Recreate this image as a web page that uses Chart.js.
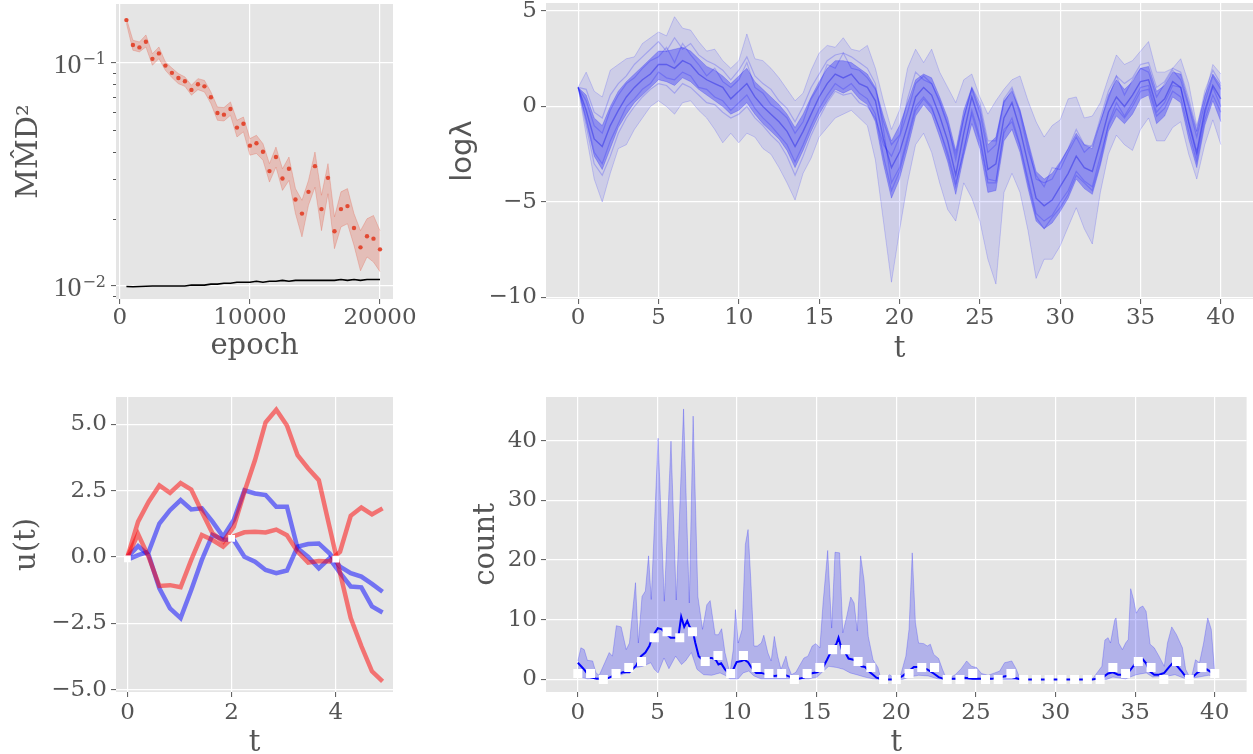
<!DOCTYPE html>
<html>
<head>
<meta charset="UTF-8">
<title>panels</title>
<script src="https://cdn.jsdelivr.net/npm/chart.js"></script>
<style>
  body { margin: 0; background: #fff; width: 1253px; height: 754px; position: relative; overflow: hidden; }
  canvas { position: absolute; }
</style>
</head>
<body>
<canvas id="mmd" width="420" height="375" style="left:0;top:0"></canvas>
<canvas id="lam" width="833" height="375" style="left:420px;top:0"></canvas>
<canvas id="ctrl" width="420" height="379" style="left:0;top:375px"></canvas>
<canvas id="cnt" width="833" height="379" style="left:420px;top:375px"></canvas>

<script>
// ---- top-left: MMD^2 vs epoch ----
const mmdEpochs = [500, 1000, 1500, 2000, 2500, 3000, 3500, 4000, 4500, 5000,
  5500, 6000, 6500, 7000, 7500, 8000, 8500, 9000, 9500, 10000,
  10500, 11000, 11500, 12000, 12500, 13000, 13500, 14000, 14500, 15000,
  15500, 16000, 16500, 17000, 17500, 18000, 18500, 19000, 19500, 20000];
const mmdMean = [0.155, 0.120, 0.117, 0.124, 0.104, 0.110, 0.097, 0.090, 0.0854, 0.0825,
  0.0755, 0.080, 0.0783, 0.070, 0.0595, 0.0585, 0.062, 0.0512, 0.0533, 0.0425,
  0.0436, 0.0399, 0.0327, 0.0378, 0.0303, 0.0335, 0.0244, 0.0211, 0.0264, 0.0344,
  0.0221, 0.0305, 0.0176, 0.0221, 0.0228, 0.0182, 0.0149, 0.0167, 0.0163, 0.0146];
const mmdUpper = [0.158, 0.126, 0.1237, 0.133, 0.1097, 0.1175, 0.1007, 0.0946, 0.0893, 0.0863,
  0.0792, 0.0848, 0.0833, 0.0739, 0.0633, 0.0629, 0.0667, 0.0552, 0.0571, 0.0457,
  0.0473, 0.0434, 0.0353, 0.0419, 0.0335, 0.0378, 0.0273, 0.0242, 0.0297, 0.0398,
  0.0255, 0.0353, 0.0204, 0.0264, 0.0273, 0.0211, 0.0177, 0.0200, 0.0207, 0.0177];
const mmdLower = [0.150, 0.1136, 0.1117, 0.1175, 0.0973, 0.1042, 0.0924, 0.0857, 0.0805, 0.0783,
  0.0715, 0.0757, 0.0739, 0.0655, 0.0552, 0.0548, 0.0581, 0.0465, 0.0490, 0.0385,
  0.0392, 0.0366, 0.0292, 0.0341, 0.0268, 0.0297, 0.0211, 0.0166, 0.0230, 0.0277,
  0.0177, 0.0259, 0.0147, 0.0184, 0.0190, 0.0152, 0.0117, 0.0135, 0.0128, 0.0116];
const mmdBaseline = [0.00995, 0.00993, 0.00995, 0.00998, 0.0100, 0.0100, 0.0100, 0.0100, 0.0100, 0.0100,
  0.0101, 0.0101, 0.0101, 0.0102, 0.0102, 0.0103, 0.0103, 0.0104, 0.0104, 0.0104,
  0.0105, 0.0104, 0.0105, 0.0105, 0.0106, 0.0105, 0.0106, 0.0106, 0.0106, 0.0106,
  0.0106, 0.0106, 0.0106, 0.0107, 0.0106, 0.0107, 0.0106, 0.0107, 0.0107, 0.0107];
const mmdMajor = [0.01, 0.1];
const mmdMajorExp = ['\u22122', '\u22121'];
const mmdMinor = [0.009, 0.02, 0.03, 0.04, 0.05, 0.06, 0.07, 0.08, 0.09];

// ---- top-right: log lambda paths, summarised every 0.5 in t ----
const lamT = Array.from({length: 81}, (_, i) => i * 0.5);
const lamCenter = [1.0, -0.2, -1.7, -2.1, -1.0, -0.2, 0.5, 1.0, 1.4, 1.7,
  2.2, 2.2, 2.0, 2.4, 2.2, 1.7, 1.4, 1.2, 1.0, 0.4,
  0.8, 1.2, 0.5, 0.0, -0.4, -0.8, -1.3, -2.1, -1.3, -0.4,
  0.5, 1.2, 1.7, 1.5, 1.7, 1.2, 1.0, 0.3, -1.7, -3.2,
  -2.4, -1.0, 0.5, 1.0, 0.6, -0.5, -1.8, -3.6, -1.4, 0.5,
  -0.8, -3.3, -3.0, -0.6, 0.2, -1.2, -3.0, -4.8, -5.2, -4.9,
  -4.2, -3.5, -2.6, -3.2, -3.4, -1.9, -0.3, 0.5, 0.0, 0.6,
  1.3, 1.4, 0.0, 0.4, 1.3, 1.0, -0.8, -2.4, -0.2, 1.1,
  0.4];
const lamInnerUp = [1.0, 0.6, -0.6, -1.0, 0.0, 0.8, 1.3, 1.7, 2.1, 2.5,
  2.9, 2.9, 3.0, 3.1, 2.9, 2.5, 2.1, 1.9, 1.6, 1.2,
  1.6, 2.0, 1.3, 0.9, 0.5, 0.1, -0.4, -1.1, -0.4, 0.5,
  1.3, 2.0, 2.4, 2.4, 2.3, 2.0, 1.7, 1.0, -0.5, -1.8,
  -1.0, 0.2, 1.4, 1.7, 1.5, 0.5, -0.6, -2.3, -0.2, 1.0,
  0.0, -2.0, -1.6, 0.3, 0.8, -0.2, -1.8, -3.4, -3.8, -3.5,
  -2.9, -2.2, -1.4, -2.0, -2.2, -0.8, 0.6, 1.4, 0.9, 1.3,
  2.0, 2.1, 0.8, 1.1, 1.8, 1.7, 0.2, -1.3, 0.6, 1.7,
  1.1];
const lamInnerLo = [1.0, -0.8, -2.6, -3.3, -2.2, -1.1, -0.4, 0.2, 0.6, 1.0,
  1.4, 1.3, 1.1, 1.5, 1.3, 0.9, 0.6, 0.3, 0.0, -0.4,
  -0.2, 0.2, -0.4, -0.9, -1.3, -1.7, -2.3, -3.2, -2.3, -1.3,
  -0.4, 0.3, 0.9, 0.7, 0.9, 0.4, 0.1, -0.8, -3.0, -4.8,
  -3.8, -2.2, -0.5, 0.1, -0.4, -1.6, -2.9, -4.6, -2.6, -0.9,
  -2.2, -4.5, -4.4, -1.8, -1.2, -2.4, -4.3, -6.0, -6.4, -6.1,
  -5.5, -4.8, -3.8, -4.3, -4.6, -3.1, -1.3, -0.5, -0.9, -0.4,
  0.4, 0.6, -0.9, -0.5, 0.5, 0.2, -1.7, -3.2, -1.0, 0.3,
  -0.8];
const lamOuterUp = [1.0, 1.8, 0.8, 0.5, 1.9, 2.2, 2.5, 2.6, 3.3, 3.6,
  3.9, 3.7, 4.7, 4.1, 4.0, 3.4, 2.9, 3.0, 2.4, 2.0,
  2.4, 3.8, 2.5, 2.4, 2.0, 1.5, 0.9, 0.3, 0.7, 1.9,
  2.8, 3.2, 3.1, 3.6, 3.0, 2.9, 3.2, 2.0, 0.3, -1.2,
  -0.2, 2.0, 3.0, 2.3, 3.0, 1.8, 1.0, 0.2, 1.4, 1.7,
  0.5, -0.4, 0.3, 0.9, 1.4, 1.6, 0.3, -0.8, -1.6, -1.0,
  -0.7, 0.4, 0.5, -0.6, -0.5, 0.2, 1.5, 2.7, 2.2, 2.4,
  2.9, 3.4, 1.8, 1.8, 2.0, 2.5, 1.2, -1.0, 0.5, 2.2,
  1.7];
const lamOuterLo = [1.0, -1.5, -3.8, -5.0, -3.5, -2.2, -2.0, -1.2, -0.6, 0.0,
  0.3, 0.0, -0.4, 0.2, 0.3, -0.2, -0.6, -1.2, -1.9, -1.4,
  -1.9, -1.4, -1.6, -2.2, -2.5, -3.2, -4.0, -4.9, -3.5, -2.7,
  -1.6, -1.1, -0.6, -0.4, -0.2, -0.6, -1.0, -2.8, -6.0, -9.2,
  -6.5, -4.0, -2.0, -1.4, -2.4, -4.0, -5.4, -6.0, -4.0, -4.8,
  -6.0, -8.0, -9.3, -4.5, -3.5, -4.5, -6.5, -9.0, -8.0, -8.0,
  -7.3, -6.3, -5.3, -6.4, -7.2, -4.5, -2.5, -1.5, -2.0, -2.3,
  -1.2, -0.6, -1.8, -1.8, -1.1, -0.8, -2.5, -3.8, -2.0, -0.7,
  -2.0];
// a few single sample paths read out of the bundle
const lamPathA = [1.0, 0.3, -1.0, -1.4, -0.2, 0.6, 1.2, 1.5, 2.0, 2.4,
  2.6, 3.1, 2.3, 3.3, 2.7, 2.2, 1.6, 2.0, 1.3, 1.0,
  1.4, 2.3, 1.0, 0.7, 0.1, -0.2, -0.6, -1.4, -0.8, 0.4,
  1.1, 2.2, 2.0, 2.8, 2.0, 1.9, 1.5, 0.9, -0.8, -2.0,
  -1.5, 0.4, 1.8, 1.4, 1.2, 0.2, -1.0, -2.5, -0.6, 0.9,
  -0.3, -2.4, -2.0, 0.2, 0.9, -0.4, -2.3, -3.6, -4.2, -3.2,
  -3.3, -2.4, -1.6, -2.4, -2.0, -0.8, 0.4, 1.6, 0.6, 1.4,
  2.0, 1.8, 0.5, 1.2, 1.9, 1.4, 0.0, -1.6, 0.2, 1.6,
  0.9];
const lamPathB = [1.0, -0.6, -2.4, -3.0, -1.8, -0.9, 0.0, 0.4, 0.9, 1.2,
  1.8, 1.5, 1.4, 1.8, 1.6, 1.0, 0.9, 0.5, 0.3, -0.2,
  0.2, 0.6, -0.1, -0.6, -1.0, -1.5, -2.0, -2.9, -2.0, -1.0,
  -0.1, 0.6, 1.2, 0.9, 1.2, 0.7, 0.4, -0.4, -2.6, -4.4,
  -3.4, -1.8, -0.2, 0.4, -0.1, -1.2, -2.6, -4.2, -2.2, -0.4,
  -1.8, -4.0, -4.0, -1.4, -0.6, -2.0, -3.8, -5.6, -6.0, -5.7,
  -5.0, -4.4, -3.4, -3.9, -4.2, -2.6, -1.0, -0.1, -0.6, 0.0,
  0.8, 0.9, -0.5, -0.1, 0.8, 0.5, -1.3, -2.9, -0.7, 0.6,
  -0.3];
const lamPathC = [1.0, 0.9, -0.3, -0.6, 0.6, 1.2, 1.6, 2.2, 2.6, 3.0,
  3.4, 2.9, 3.6, 3.0, 3.3, 2.7, 2.4, 2.2, 1.9, 1.4,
  1.9, 2.6, 1.6, 1.2, 0.9, 0.3, -0.1, -0.8, 0.0, 1.0,
  1.7, 2.4, 2.7, 2.8, 2.6, 2.3, 2.0, 1.2, -1.2, -4.0,
  -3.2, -1.6, 0.0, 0.5, 0.0, -1.2, -2.4, -4.0, -2.4, -0.2,
  -1.6, -3.8, -3.9, -1.2, -0.8, -2.1, -4.0, -5.8, -6.4, -5.8,
  -5.3, -4.6, -3.6, -4.0, -4.4, -2.9, -0.9, 0.2, -0.5, 0.2,
  1.0, 1.1, -0.3, 0.2, 1.1, 1.0, -0.9, -2.6, -0.4, 1.0,
  0.0];
const lamPathD = [1.0, -1.0, -3.0, -3.6, -2.6, -1.4, -0.6, 0.0, 0.5, 0.9,
  1.2, 1.1, 0.7, 1.2, 1.0, 0.6, 0.2, 0.1, -0.3, -0.6,
  -0.4, 0.0, -0.6, -1.0, -1.5, -1.9, -2.6, -3.6, -2.6, -1.5,
  -0.6, 0.2, 0.8, 0.6, 0.7, 0.2, 0.0, -0.6, -2.0, -2.6,
  -1.6, -0.3, 1.2, 1.6, 1.2, 0.3, -0.9, -2.8, -0.6, 1.0,
  0.2, -1.8, -1.8, 0.4, 1.0, -0.2, -2.0, -3.8, -4.0, -3.8,
  -3.0, -2.2, -1.2, -2.0, -2.1, -0.6, 0.8, 1.6, 1.2, 1.5,
  2.2, 2.3, 1.0, 1.3, 2.0, 1.8, 0.4, -1.2, 0.8, 1.9,
  1.2];

// ---- bottom-left: control paths u(t) ----
const uT = [0, 0.204, 0.408, 0.613, 0.817, 1.021, 1.225, 1.429, 1.633, 1.838,
  2.042, 2.246, 2.45, 2.654, 2.858, 3.063, 3.267, 3.471, 3.675, 3.879,
  4.083, 4.288, 4.492, 4.696, 4.9];
const uRed1 = [0, 1.33, 2.08, 2.69, 2.41, 2.78, 2.54, 1.70, 0.89, 0.58,
  1.14, 2.45, 3.65, 5.07, 5.54, 4.95, 3.83, 3.33, 2.89, 1.15,
  -0.6, -2.3, -3.35, -4.3, -4.68];
const uRed2 = [0, 0.86, 0.0, -1.09, -1.06, -1.14, -0.11, 0.83, 0.64, 0.39,
  0.78, 0.93, 0.95, 0.92, 1.03, 0.82, 0.2, -0.21, -0.15, -0.17,
  0.2, 1.55, 1.86, 1.6, 1.83];
const uBlue1 = [-0.1, 0.07, 0.2, 1.26, 1.76, 2.14, 1.79, 1.83, 1.33, 0.76,
  1.39, 2.51, 2.39, 2.33, 1.89, 1.89, 0.33, 0.0, -0.43, -0.05,
  -0.6, -1.11, -1.14, -1.86, -2.09];
const uBlue2 = [0, 0.41, 0.07, -1.18, -1.93, -2.3, -1.24, -0.11, 0.83, 0.66,
  0.64, 0.01, -0.18, -0.49, -0.61, -0.51, 0.39, 0.49, 0.51, 0.14,
  -0.36, -0.61, -0.74, -1.01, -1.31];
const uObsT = [0, 2, 4];
const uObs = [-0.07, 0.7, -0.08];

// ---- bottom-right: counts ----
const countObsT = [0, 0.8, 1.6, 2.4, 3.2, 4.0, 4.8, 5.6, 6.4, 7.2,
  8.0, 8.8, 9.6, 10.4, 11.2, 12.0, 12.8, 13.6, 14.4, 15.2,
  16.0, 16.8, 17.6, 18.4, 19.2, 20.0, 20.8, 21.6, 22.4, 23.2,
  24.0, 24.8, 25.6, 26.4, 27.2, 28.0, 28.8, 29.6, 30.4, 31.2,
  32.0, 32.8, 33.6, 34.4, 35.2, 36.0, 36.8, 37.6, 38.4, 39.2, 40.0];
const countObs = [1, 1, 0, 1, 2, 3, 7, 8, 7, 8,
  3, 4, 1, 4, 2, 1, 1, 0, 1, 2,
  5, 5, 3, 2, 0, 0, 1, 2, 2, 0,
  0, 1, 0, 0, 1, 0, 0, 0, 0, 0,
  0, 0, 2, 1, 3, 2, 0, 3, 0, 2, 1];
const countMeanT = [0, 0.35, 0.77, 1.18, 1.8, 2.31, 2.83, 3.24, 3.66, 3.97,
  4.24, 4.49, 4.69, 5.02, 5.27, 5.52, 5.83, 6.14, 6.31, 6.49,
  6.68, 6.87, 7.01, 7.22, 7.38, 7.59, 7.83, 8.1, 8.41, 8.66,
  8.83, 9.0, 9.24, 9.45, 9.66, 9.97, 10.28, 10.44, 10.69, 10.9,
  11.2, 11.52, 11.93, 12.34, 12.96, 13.38, 13.8, 14.2, 14.62, 15.03,
  15.34, 15.65, 15.96, 16.23, 16.37, 16.58, 16.79, 17.0, 17.31, 17.62,
  17.82, 18.03, 18.34, 18.54, 18.75, 19.17, 20.0, 20.4, 20.8, 21.1,
  21.5, 21.94, 22.35, 22.66, 22.97, 24.0, 24.3, 24.8, 26.0, 26.6,
  27.0, 27.42, 27.83, 32.3, 32.6, 33.0, 33.3, 33.6, 33.93, 34.24,
  34.65, 34.96, 35.17, 35.44, 35.69, 35.9, 36.2, 36.5, 36.83, 37.14,
  37.38, 37.65, 37.97, 38.27, 38.58, 38.9, 39.2, 39.5, 39.78, 40.0];
const countMean = [2.8, 1.8, 0.4, 0.1, 0.1, 0.7, 1.2, 1.2, 2.3, 3.9,
  4.5, 5.6, 7.2, 8.6, 8.4, 7.7, 7.0, 7.0, 7.1, 10.5,
  8.8, 9.8, 8.9, 8.1, 6.1, 3.9, 3.3, 3.6, 3.6, 3.3,
  2.5, 2.7, 1.7, 1.1, 1.1, 2.9, 3.1, 3.3, 2.9, 2.0,
  1.1, 1.1, 0.8, 0.6, 0.8, 0.4, 0.1, 0.3, 1.0, 1.2,
  1.7, 3.3, 5.0, 5.9, 7.0, 5.0, 4.5, 3.5, 3.3, 2.9,
  2.2, 2.1, 1.2, 0.8, 0.3, 0, 0, 0.6, 1.4, 2.1,
  2.1, 1.7, 1.0, 0.4, 0.1, 0.1, 0.3, 0.1, 0.1, 0.4,
  0.6, 0.3, 0, 0, 0.1, 0.4, 1.0, 1.2, 0.8, 0.8,
  1.4, 2.5, 3.5, 3.5, 2.7, 1.4, 0.8, 0.8, 1.1, 2.1,
  2.8, 2.2, 1.2, 0.1, 0.3, 1.1, 1.6, 1.7, 1.2, 1.1];
const countUpT = [0, 0.19, 0.4, 0.6, 0.93, 1.14, 1.34, 1.69, 1.97, 2.17,
  2.42, 2.72, 3.04, 3.24, 3.62, 3.8, 4.03, 4.24, 4.44, 4.61,
  5.04, 5.43, 5.85, 6.18, 6.64, 7.0, 7.24, 7.54, 7.83, 8.1,
  8.31, 8.62, 8.83, 9.03, 9.24, 9.55, 9.76, 9.9, 10.07, 10.32,
  10.52, 10.69, 10.85, 11.06, 11.27, 11.52, 11.68, 11.93, 12.14, 12.34,
  12.55, 12.76, 13.07, 13.21, 13.42, 13.69, 13.96, 14.2, 14.45, 14.72,
  14.95, 15.2, 15.4, 15.69, 15.94, 16.15, 16.44, 16.64, 16.89, 17.14,
  17.35, 17.55, 17.76, 17.97, 18.24, 18.54, 18.85, 19.0, 19.27, 19.58,
  19.97, 20.28, 20.6, 20.8, 21.0, 21.2, 21.4, 21.73, 21.94, 22.14,
  22.35, 22.66, 22.9, 23.07, 23.38, 23.7, 24.07, 24.42, 24.73, 25.04,
  25.35, 25.77, 26.18, 26.49, 26.8, 27.25, 27.52, 27.73, 28.04, 32.3,
  32.6, 32.91, 33.1, 33.3, 33.45, 33.72, 33.8, 33.97, 34.2, 34.4,
  34.57, 34.72, 34.9, 35.07, 35.28, 35.48, 35.69, 35.94, 36.2, 36.5,
  36.83, 37.03, 37.3, 37.6, 37.97, 38.17, 38.42, 38.58, 38.79, 39.04,
  39.3, 39.56, 39.78, 40.0];
const countUp = [3.1, 5.3, 5.0, 3.2, 3.1, 1.1, 0.7, 2.8, 4.5, 3.9,
  9.0, 8.8, 5.0, 6.1, 16.2, 6.1, 13.9, 14.8, 20.7, 13.4,
  40.4, 13.1, 39.9, 13.3, 45.3, 12.8, 44.1, 13.9, 8.4, 12.5,
  13.2, 7.5, 7.5, 8.5, 4.5, 1.0, 5.0, 11.7, 6.1, 8.4,
  22.6, 25.1, 17.3, 5.6, 5.6, 6.1, 7.4, 4.5, 3.1, 7.2,
  3.9, 1.7, 3.9, 2.2, 0.8, 1.2, 2.5, 3.6, 3.9, 5.6,
  6.0, 5.3, 12.8, 21.6, 8.6, 21.3, 21.2, 7.8, 10.6, 13.8,
  12.8, 8.1, 20.7, 16.7, 7.2, 3.3, 2.0, 0.4, 0.0, 0.8,
  0.0, 0.8, 3.9, 8.4, 21.2, 9.5, 6.1, 6.0, 5.6, 5.9,
  4.2, 3.5, 1.7, 0.6, 0.3, 0.8, 1.8, 3.1, 2.2, 2.0,
  1.0, 0.7, 1.1, 1.4, 2.8, 3.1, 1.8, 0.4, 0, 0,
  1.1, 2.2, 6.6, 7.0, 6.1, 10.0, 10.3, 6.1, 5.0, 6.1,
  6.7, 15.2, 13.4, 11.1, 12.0, 12.3, 11.4, 5.9, 5.3, 3.9,
  2.2, 6.1, 8.8, 7.5, 5.3, 1.7, 0.4, 0.8, 3.3, 2.8,
  6.1, 10.3, 8.4, 1.1];
const countLoT = [0, 0.6, 2.4, 3.0, 3.66, 4.07, 4.58, 4.8, 5.04, 5.41,
  5.72, 6.14, 6.51, 6.76, 7.13, 7.48, 7.9, 8.41, 8.93, 9.24,
  9.55, 10.07, 10.38, 10.73, 11.06, 11.5, 14.5, 15.03, 15.34, 15.75,
  16.27, 16.68, 17.1, 17.51, 18.02, 18.54, 19.0, 20.4, 20.8, 21.4,
  22.0, 22.6, 23.0, 33.2, 33.6, 34.4, 35.07, 35.7, 36.1, 37.1,
  37.5, 38.17, 39.0, 39.6, 40.0];
const countLo = [0.5, 0.1, 0.4, 1.1, 2.0, 2.2, 2.8, 1.7, 1.1, 3.6,
  1.8, 3.9, 2.5, 3.1, 4.5, 1.7, 0.8, 0.7, 1.1, 0.7,
  0.1, 0.1, 1.1, 1.4, 0.6, 0.1, 0.1, 0.4, 1.2, 2.2,
  2.0, 1.7, 1.1, 0.8, 0.4, 0.1, 0, 0, 0.4, 0.7,
  0.6, 0.1, 0, 0, 0.4, 0.1, 0.8, 1.1, 0.4, 0.6,
  0.8, 0.1, 0.4, 0.7, 0.6];

// ---- shared styling ----
const SERIF = '"DejaVu Serif", serif';
const GRAY = '#555555';
const BG = '#E5E5E5';

const pts = (xs, ys) => xs.map((x, i) => ({x: x, y: ys[i]}));
const minus = v => String(v).replace('-', '\u2212');

const bgPlugin = {
  id: 'bg',
  beforeDraw(c) {
    const a = c.chartArea, ctx = c.ctx;
    ctx.save();
    ctx.fillStyle = BG;
    ctx.fillRect(a.left, a.top, a.right - a.left, a.bottom - a.top);
    ctx.restore();
  }
};

function axis(o) {
  const horiz = o.axis === 'x';
  return {
    type: o.type || 'linear',
    position: horiz ? 'bottom' : 'left',
    min: o.min, max: o.max,
    afterBuildTicks: s => { s.ticks = o.ticks.map(v => ({value: v})); },
    afterFit: s => {
      if (horiz) s.height = o.size; else s.width = o.size;
      s.paddingLeft = 0; s.paddingRight = 0; s.paddingTop = 0; s.paddingBottom = 0;
    },
    grid: { color: '#FFFFFF', lineWidth: 1.2, drawTicks: true, tickLength: 5, tickColor: GRAY, tickWidth: 1 },
    border: { display: false },
    ticks: {
      color: GRAY, font: {family: SERIF, size: 23}, padding: o.pad,
      autoSkip: false, maxRotation: 0, callback: o.fmt || (v => minus(v))
    },
    title: {
      display: true, text: o.title, color: GRAY,
      font: {family: o.titleFont || SERIF, size: 29},
      padding: horiz ? {top: 0, bottom: o.titlePad} : {top: o.titlePad, bottom: 0}
    }
  };
}

function makeChart(id, datasets, xAxis, yAxis, padding, extra) {
  return new Chart(document.getElementById(id), {
    type: 'line',
    data: { datasets: datasets },
    options: {
      responsive: false, animation: false, events: [],
      layout: { padding: padding },
      plugins: { legend: { display: false }, tooltip: { enabled: false } },
      elements: { point: { radius: 0 }, line: { tension: 0 } },
      scales: { x: xAxis, y: yAxis }
    },
    plugins: [bgPlugin].concat(extra || [])
  });
}

// log-axis labels 10^-1, 10^-2 and minor ticks
const logLabels = {
  id: 'logLabels',
  afterDraw(c) {
    const s = c.scales.y, ctx = c.ctx, left = c.chartArea.left;
    ctx.save();
    ctx.fillStyle = GRAY;
    ctx.strokeStyle = GRAY;
    ctx.textBaseline = 'alphabetic';
    mmdMajor.forEach((v, i) => {
      const y = s.getPixelForValue(v);
      ctx.font = '16px ' + SERIF;
      const sup = mmdMajorExp[i];
      const sw = ctx.measureText(sup).width;
      const right = left - 10;
      ctx.textAlign = 'left';
      ctx.fillText(sup, right - sw, y + 1);
      ctx.font = '28px "Liberation Serif", serif';
      ctx.textAlign = 'right';
      ctx.fillText('10', right - sw - 1, y + 10);
    });
    ctx.lineWidth = 1;
    mmdMinor.forEach(v => {
      const y = Math.round(s.getPixelForValue(v)) + 0.5;
      ctx.beginPath();
      ctx.moveTo(left - 3, y);
      ctx.lineTo(left, y);
      ctx.stroke();
    });
    ctx.restore();
  }
};

// ---- top-left ----
makeChart('mmd', [
  { data: pts(mmdEpochs, mmdMean), showLine: false, pointRadius: 2.2,
    pointBackgroundColor: '#E24A33', pointBorderWidth: 0 },
  { data: pts(mmdEpochs, mmdBaseline), borderColor: '#000000', borderWidth: 1.6 },
  { data: pts(mmdEpochs, mmdUpper), borderColor: 'rgba(226,74,51,0.25)', borderWidth: 1,
    backgroundColor: 'rgba(226,74,51,0.25)', fill: '+1' },
  { data: pts(mmdEpochs, mmdLower), borderColor: 'rgba(226,74,51,0.25)', borderWidth: 1 }
],
  axis({axis: 'x', min: -300, max: 21000, ticks: [0, 10000, 20000], size: 76, pad: 0,
        title: 'epoch', titlePad: 11, fmt: v => String(v)}),
  axis({axis: 'y', type: 'logarithmic', min: 0.00875, max: 0.183, ticks: mmdMajor, size: 116, pad: 4,
        title: 'MM\u0302D\u00B2', titlePad: 11.9, fmt: () => ''}),
  {left: 0, right: 27, top: 3, bottom: 0}, [logLabels]);

// ---- top-right ----
const strand = 'rgba(0,0,255,0.2)';
makeChart('lam', [
  { data: pts(lamT, lamPathA), borderColor: strand, borderWidth: 1.2 },
  { data: pts(lamT, lamPathB), borderColor: strand, borderWidth: 1.2 },
  { data: pts(lamT, lamPathC), borderColor: strand, borderWidth: 1.2 },
  { data: pts(lamT, lamPathD), borderColor: strand, borderWidth: 1.2 },
  { data: pts(lamT, lamCenter), borderColor: 'rgba(0,0,230,0.35)', borderWidth: 1.4 },
  { data: pts(lamT, lamInnerUp), borderColor: 'rgba(0,0,255,0.2)', borderWidth: 1,
    backgroundColor: 'rgba(0,0,255,0.30)', fill: '+1' },
  { data: pts(lamT, lamInnerLo), borderColor: 'rgba(0,0,255,0.2)', borderWidth: 1 },
  { data: pts(lamT, lamOuterUp), borderColor: 'rgba(0,0,255,0.16)', borderWidth: 1,
    backgroundColor: 'rgba(0,0,255,0.10)', fill: '+1' },
  { data: pts(lamT, lamOuterLo), borderColor: 'rgba(0,0,255,0.16)', borderWidth: 1 }
],
  axis({axis: 'x', min: -2, max: 42, ticks: [0, 5, 10, 15, 20, 25, 30, 35, 40], size: 76, pad: 0,
        title: 't', titlePad: 8}),
  axis({axis: 'y', min: -10.08, max: 5.42, ticks: [-10, -5, 0, 5], size: 126, pad: 4,
        title: 'log\u03BB', titleFont: '"DejaVu Sans", sans-serif', titlePad: 25.9}),
  {left: 0, right: 0, top: 3, bottom: 0});

// ---- bottom-left ----
makeChart('ctrl', [
  { data: pts(uObsT, uObs), showLine: false, pointStyle: 'rect', pointRadius: 4.8,
    pointBackgroundColor: '#FFFFFF', pointBorderWidth: 0 },
  { data: pts(uT, uRed1), borderColor: 'rgba(255,0,0,0.5)', borderWidth: 4.5 },
  { data: pts(uT, uRed2), borderColor: 'rgba(255,0,0,0.5)', borderWidth: 4.5 },
  { data: pts(uT, uBlue1), borderColor: 'rgba(0,0,255,0.5)', borderWidth: 4.5 },
  { data: pts(uT, uBlue2), borderColor: 'rgba(0,0,255,0.5)', borderWidth: 4.5 }
],
  axis({axis: 'x', min: -0.22, max: 5.1, ticks: [0, 2, 4], size: 62, pad: 2,
        title: 't', titlePad: -6.8}),
  axis({axis: 'y', min: -5.08, max: 6.02, ticks: [-5, -2.5, 0, 2.5, 5], size: 116, pad: 4,
        title: 'u(t)', titlePad: 10, fmt: v => minus(v.toFixed(1))}),
  {left: 0, right: 27, top: 22, bottom: 0});

// ---- bottom-right ----
makeChart('cnt', [
  { data: pts(countObsT, countObs), showLine: false, pointStyle: 'rect', pointRadius: 6.4,
    pointBackgroundColor: '#FFFFFF', pointBorderWidth: 0 },
  { data: pts(countMeanT, countMean), borderColor: '#0000FF', borderWidth: 2 },
  { data: pts(countUpT, countUp), borderColor: 'rgba(0,0,255,0.22)', borderWidth: 1,
    backgroundColor: 'rgba(0,0,255,0.22)', fill: '+1' },
  { data: pts(countLoT, countLo), borderColor: 'rgba(0,0,255,0.22)', borderWidth: 1 }
],
  axis({axis: 'x', min: -2, max: 42, ticks: [0, 5, 10, 15, 20, 25, 30, 35, 40], size: 62, pad: 2,
        title: 't', titlePad: -6.8}),
  axis({axis: 'y', min: -2.1, max: 47.3, ticks: [0, 10, 20, 30, 40], size: 126, pad: 4,
        title: 'count', titlePad: 49}),
  {left: 0, right: 0, top: 22, bottom: 0});
</script>
</body>
</html>
